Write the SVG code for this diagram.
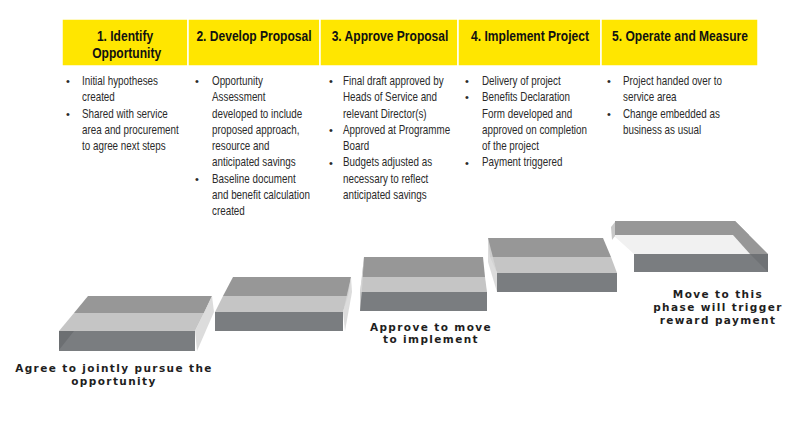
<svg xmlns="http://www.w3.org/2000/svg" width="800" height="423" viewBox="0 0 800 423">
<style>
.cell{fill:#FFE600;stroke:#ffffff;stroke-width:1.5}
.hd{font-family:"Liberation Sans",Arial,sans-serif;font-weight:bold;font-size:14.7px;fill:#111;text-anchor:middle}
.bt{font-family:"Liberation Sans",Arial,sans-serif;font-size:12px;fill:#2a2a2a}
.bl{font-family:"Liberation Sans",Arial,sans-serif;font-size:11px;fill:#2a2a2a}
.lab{font-family:"DejaVu Sans",Verdana,sans-serif;font-weight:bold;font-size:10.5px;letter-spacing:1.4px;fill:#1e1e1e;text-anchor:middle}
.tdark{fill:#979797}
.tlight{fill:#c5c5c5}
.front{fill:#7a7d80}
.side{fill:#d6d6d6;opacity:0.85}
.shade{fill:#6c6f72}
</style>
<rect width="800" height="423" fill="#ffffff"/>

<!-- Header cells -->
<g id="h1"><rect class="cell" x="62" y="19" width="126" height="47"/>
<g transform="translate(125,41) scale(0.82,1)"><text class="hd" x="0" y="0">1. Identify</text><text class="hd" x="2" y="17">Opportunity</text></g></g>
<g id="h2"><rect class="cell" x="188" y="19" width="132" height="47"/>
<g transform="translate(254,41) scale(0.82,1)"><text class="hd" x="0" y="0">2. Develop Proposal</text></g></g>
<g id="h3"><rect class="cell" x="320" y="19" width="138" height="47"/>
<g transform="translate(390,41) scale(0.82,1)"><text class="hd" x="0" y="0">3. Approve Proposal</text></g></g>
<g id="h4"><rect class="cell" x="458" y="19" width="143" height="47"/>
<g transform="translate(530,41) scale(0.82,1)"><text class="hd" x="0" y="0">4. Implement Project</text></g></g>
<g id="h5"><rect class="cell" x="601" y="19" width="157" height="47"/>
<g transform="translate(680,41) scale(0.82,1)"><text class="hd" x="0" y="0">5. Operate and Measure</text></g></g>

<!-- Bullet columns -->
<g id="c1">
<text class="bl" x="66" y="85">•</text><text class="bl" x="66" y="117.6">•</text>
<g transform="translate(82,0) scale(0.82,1)">
<text class="bt" x="0" y="85">Initial hypotheses</text>
<text class="bt" x="0" y="101.3">created</text>
<text class="bt" x="0" y="117.6">Shared with service</text>
<text class="bt" x="0" y="133.9">area and procurement</text>
<text class="bt" x="0" y="150.2">to agree next steps</text>
</g></g>
<g id="c2">
<text class="bl" x="195" y="85">•</text><text class="bl" x="195" y="182.8">•</text>
<g transform="translate(212,0) scale(0.82,1)">
<text class="bt" x="0" y="85">Opportunity</text>
<text class="bt" x="0" y="101.3">Assessment</text>
<text class="bt" x="0" y="117.6">developed to include</text>
<text class="bt" x="0" y="133.9">proposed approach,</text>
<text class="bt" x="0" y="150.2">resource and</text>
<text class="bt" x="0" y="166.5">anticipated savings</text>
<text class="bt" x="0" y="182.8">Baseline document</text>
<text class="bt" x="0" y="199.1">and benefit calculation</text>
<text class="bt" x="0" y="215.4">created</text>
</g></g>
<g id="c3">
<text class="bl" x="329" y="85">•</text><text class="bl" x="329" y="133.9">•</text><text class="bl" x="329" y="166.5">•</text>
<g transform="translate(343,0) scale(0.82,1)">
<text class="bt" x="0" y="85">Final draft approved by</text>
<text class="bt" x="0" y="101.3">Heads of Service and</text>
<text class="bt" x="0" y="117.6">relevant Director(s)</text>
<text class="bt" x="0" y="133.9">Approved at Programme</text>
<text class="bt" x="0" y="150.2">Board</text>
<text class="bt" x="0" y="166.5">Budgets adjusted as</text>
<text class="bt" x="0" y="182.8">necessary to reflect</text>
<text class="bt" x="0" y="199.1">anticipated savings</text>
</g></g>
<g id="c4">
<text class="bl" x="465" y="85">•</text><text class="bl" x="465" y="101.3">•</text><text class="bl" x="465" y="166.5">•</text>
<g transform="translate(482,0) scale(0.82,1)">
<text class="bt" x="0" y="85">Delivery of project</text>
<text class="bt" x="0" y="101.3">Benefits Declaration</text>
<text class="bt" x="0" y="117.6">Form developed and</text>
<text class="bt" x="0" y="133.9">approved on completion</text>
<text class="bt" x="0" y="150.2">of the project</text>
<text class="bt" x="0" y="166.5">Payment triggered</text>
</g></g>
<g id="c5">
<text class="bl" x="607" y="85">•</text><text class="bl" x="607" y="117.6">•</text>
<g transform="translate(623,0) scale(0.82,1)">
<text class="bt" x="0" y="85">Project handed over to</text>
<text class="bt" x="0" y="101.3">service area</text>
<text class="bt" x="0" y="117.6">Change embedded as</text>
<text class="bt" x="0" y="133.9">business as usual</text>
</g></g>

<!-- Steps -->
<g id="step1">
<polygon class="tdark" points="88,296 212,296 204,313 74,313"/>
<polygon class="tlight" points="74,313 204,313 195,331 59,331"/>
<rect class="front" x="59" y="331" width="136" height="20"/>
<polygon class="shade" points="59,331 74,331 59,350"/>
<polygon class="side" points="212,296 214,312 197,351 195,331"/>
</g>
<g id="step2">
<polygon class="tdark" points="233,277 351,277 348,296 223,296"/>
<polygon class="tlight" points="223,296 348,296 343,312 215,312"/>
<rect class="front" x="215" y="312" width="128" height="19"/>
<polygon class="side" points="351,277 352,292 345,331 343,312"/>
</g>
<g id="step3">
<polygon class="tdark" points="364,257 483,257 485,277 362,277"/>
<polygon class="tlight" points="362,277 485,277 487,292 360,292"/>
<rect class="front" x="360" y="292" width="127" height="19"/>
<polygon class="side" points="364,257 360,292 360,311 362,290"/>
</g>
<g id="step4">
<polygon class="tdark" points="488,238 603,238 611,257 490,257"/>
<polygon class="tlight" points="490,257 611,257 617,273 497,273"/>
<rect class="front" x="497" y="273" width="120" height="19"/>
<polygon class="side" points="488,238 497,273 497,292 488,262"/>
</g>
<g id="step5">
<polygon points="613,235 749,235 768,254 634,254" fill="#f1f1f1"/>
<polygon class="tdark" points="615,221 735,221 749,235 615,235"/>
<polygon class="tdark" points="735,221 768,254 768,272 750,254 733,235"/>
<rect class="front" x="634" y="254" width="134" height="18"/>
<polygon points="750,254 768,254 768,272" fill="#6f7275"/>
<polygon points="611,227 615,222 615,236 612,240" fill="#c8c8c8"/>
</g>

<!-- Step labels -->
<g id="lab1"><text class="lab" x="114" y="372">Agree to jointly pursue the</text><text class="lab" x="114" y="384.5">opportunity</text></g>
<g id="lab3"><text class="lab" x="431" y="330.5">Approve to move</text><text class="lab" x="431" y="343">to implement</text></g>
<g id="lab5"><text class="lab" x="718" y="298">Move to this</text><text class="lab" x="718" y="311">phase will trigger</text><text class="lab" x="718" y="324">reward payment</text></g>

<g id="connectors"/>
</svg>
